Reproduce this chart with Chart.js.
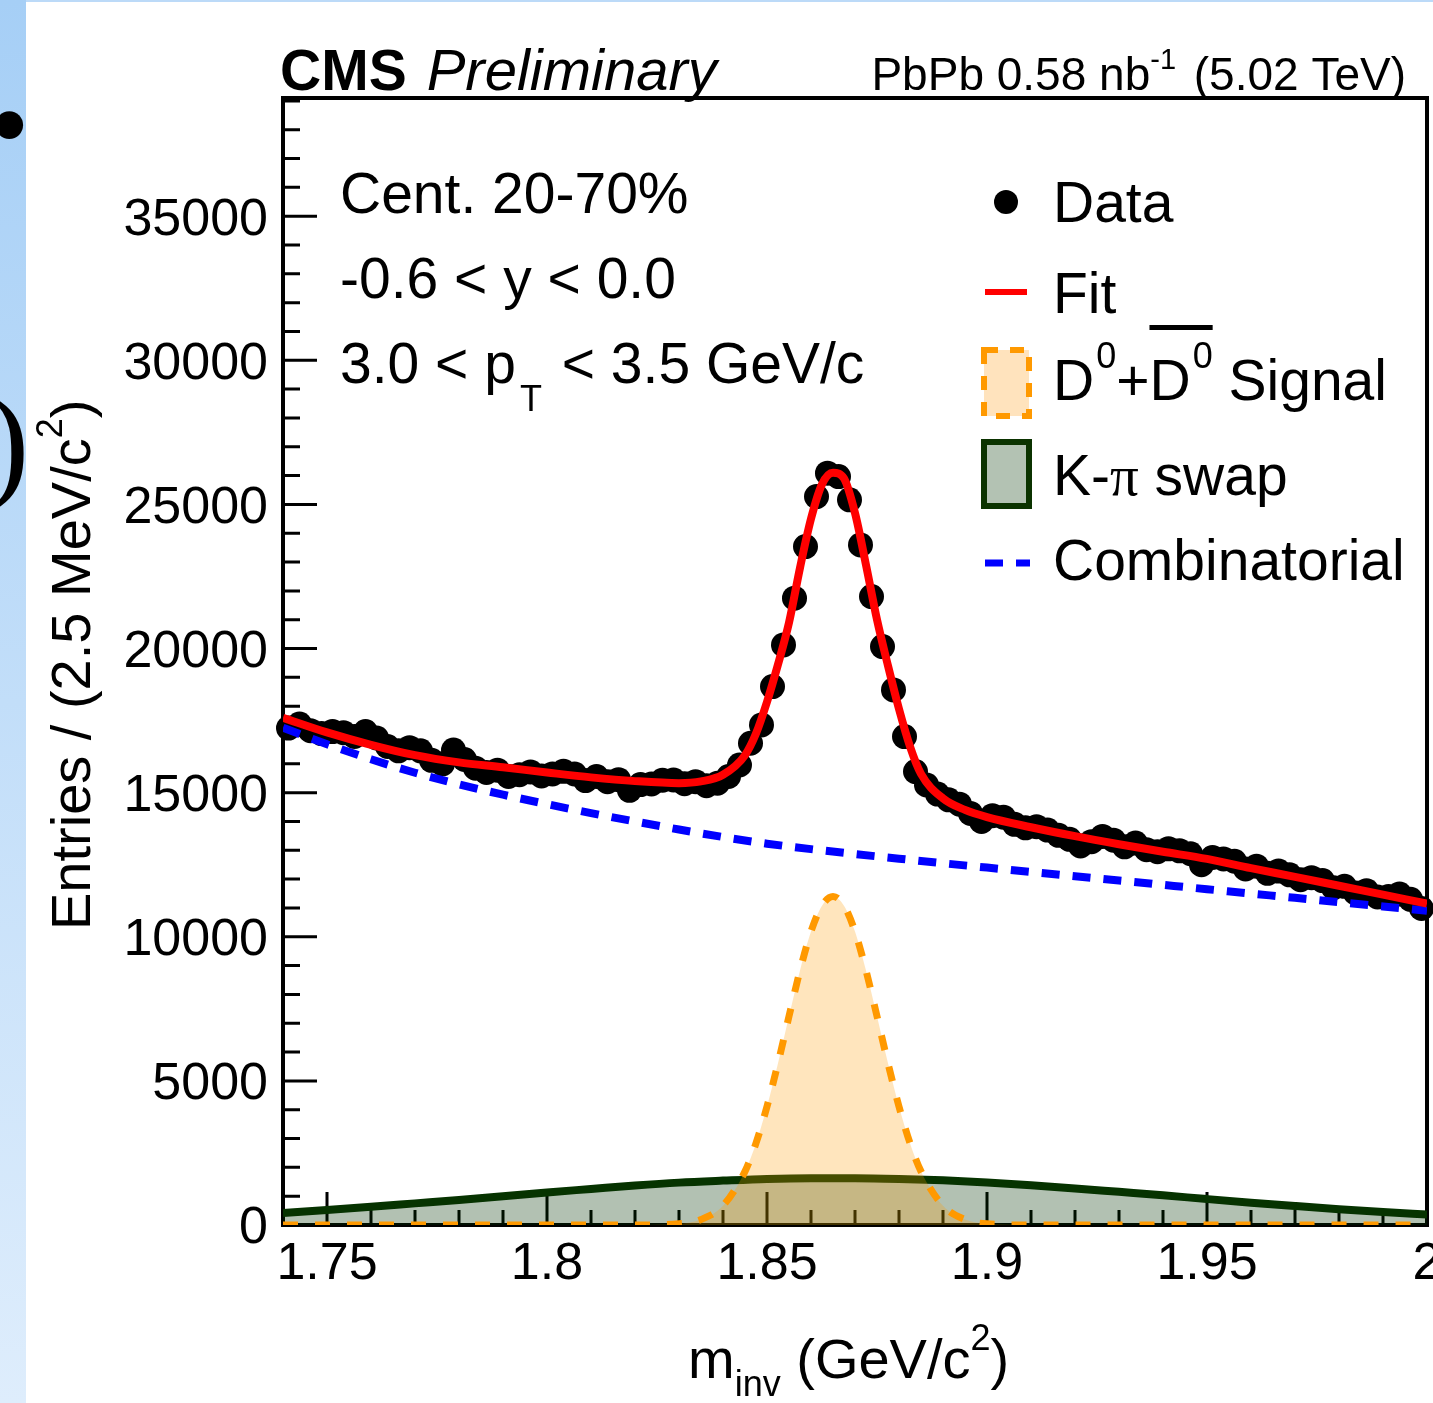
<!DOCTYPE html>
<html>
<head>
<meta charset="utf-8">
<title>D0 invariant mass, PbPb</title>
<script src="https://cdn.jsdelivr.net/npm/chart.js@4.4.1/dist/chart.umd.min.js"></script>
<style>
  html, body { margin: 0; padding: 0; background: #fff; }
  body { width: 1433px; height: 1403px; position: relative; overflow: hidden; }
  #c { position: absolute; left: 0; top: 0; }
  #strip { position: absolute; left: 0; top: 0; width: 26px; height: 1403px; overflow: hidden;
           background: linear-gradient(to bottom, #a6cff6, #deedfc); }
  #topline { position: absolute; left: 26px; top: 0; width: 1407px; height: 2px; background: #bcdaf8; }
  .glyph { position: absolute; font-family: 'Liberation Serif', 'Times New Roman', serif; color: #000; line-height: 1; }
  #bul { left: -11px; top: 67px; font-size: 116px; }
  #par { left: -14px; top: 376px; font-size: 130px; }
</style>
</head>
<body>
<canvas id="c" width="1460" height="1403"></canvas>
<div id="strip"><span class="glyph" id="bul">•</span><span class="glyph" id="par">)</span></div>
<div id="topline"></div>
<script>
const SANS = "'Liberation Sans', Arial, Helvetica, sans-serif";
const SERIF = "'Liberation Serif', 'Times New Roman', serif";

// histogram bin centres (2.5 MeV bins) and entries
const massBins = [
  1.74125, 1.74375, 1.74625, 1.74875, 1.75125, 1.75375, 1.75625, 1.75875,
  1.76125, 1.76375, 1.76625, 1.76875, 1.77125, 1.77375, 1.77625, 1.77875,
  1.78125, 1.78375, 1.78625, 1.78875, 1.79125, 1.79375, 1.79625, 1.79875,
  1.80125, 1.80375, 1.80625, 1.80875, 1.81125, 1.81375, 1.81625, 1.81875,
  1.82125, 1.82375, 1.82625, 1.82875, 1.83125, 1.83375, 1.83625, 1.83875,
  1.84125, 1.84375, 1.84625, 1.84875, 1.85125, 1.85375, 1.85625, 1.85875,
  1.86125, 1.86375, 1.86625, 1.86875, 1.87125, 1.87375, 1.87625, 1.87875,
  1.88125, 1.88375, 1.88625, 1.88875, 1.89125, 1.89375, 1.89625, 1.89875,
  1.90125, 1.90375, 1.90625, 1.90875, 1.91125, 1.91375, 1.91625, 1.91875,
  1.92125, 1.92375, 1.92625, 1.92875, 1.93125, 1.93375, 1.93625, 1.93875,
  1.94125, 1.94375, 1.94625, 1.94875, 1.95125, 1.95375, 1.95625, 1.95875,
  1.96125, 1.96375, 1.96625, 1.96875, 1.97125, 1.97375, 1.97625, 1.97875,
  1.98125, 1.98375, 1.98625, 1.98875, 1.99125, 1.99375, 1.99625, 1.99875
];
const entries = [
  17240, 17380, 17150, 17050, 17120, 17080, 16950, 17120,
  16900, 16600, 16450, 16560, 16450, 16120, 16000, 16480,
  16150, 15850, 15700, 15780, 15560, 15620, 15720, 15580,
  15650, 15740, 15650, 15420, 15560, 15380, 15450, 15080,
  15280, 15300, 15430, 15440, 15310, 15380, 15240, 15325,
  15560, 15960, 16715, 17350, 18680, 20126, 21746, 23537,
  25272, 26084, 25967, 25158, 23596, 21802, 20067, 18565,
  16944, 15730, 15268, 14950, 14750, 14600, 14280, 14000,
  14200, 14150, 13900, 13780, 13820, 13700, 13520, 13380,
  13150, 13300, 13480, 13350, 13120, 13250, 13020, 12950,
  13050, 12980, 12880, 12500, 12750, 12700, 12620, 12350,
  12450, 12200, 12280, 12150, 11980, 12050, 11950, 11700,
  11750, 11520, 11600, 11380, 11400, 11480, 11300, 10980
];

// smooth components on a coarse grid
const curveMass = [1.74, 1.75, 1.76, 1.77, 1.78, 1.79, 1.80, 1.81, 1.82, 1.83, 1.84, 1.85, 1.86, 1.87,
                   1.88, 1.89, 1.90, 1.91, 1.92, 1.93, 1.94, 1.95, 1.96, 1.97, 1.98, 1.99, 2.00];
const combinatorial = [17250, 16680, 16160, 15690, 15290, 14930, 14600, 14290, 14000, 13720, 13460, 13230, 13040, 12870,
                       12710, 12550, 12400, 12250, 12100, 11950, 11800, 11650, 11500, 11350, 11200, 11050, 10900];
const kpiSwap = [420, 520, 630, 750, 870, 1000, 1130, 1250, 1370, 1470, 1540, 1600, 1625, 1625,
                 1600, 1550, 1475, 1380, 1270, 1150, 1030, 900, 775, 660, 550, 450, 365];

// fit and signal, finer near the peak
const peakMass = [1.74, 1.75, 1.76, 1.77, 1.78, 1.79, 1.80, 1.81, 1.82, 1.83, 1.835, 1.84, 1.845, 1.8475,
                  1.85, 1.8525, 1.855, 1.8575, 1.86, 1.8625, 1.865, 1.8675, 1.87, 1.8725, 1.875, 1.8775,
                  1.88, 1.8825, 1.885, 1.89, 1.895, 1.90, 1.91, 1.92, 1.93, 1.94, 1.95, 1.96, 1.97, 1.98, 1.99, 2.00];
const fitTotal = [17600, 17090, 16660, 16300, 16050, 15880, 15700, 15530, 15400, 15330, 15390, 15620, 16300, 17050,
                  18150, 19450, 20900, 22800, 24500, 25700, 26100, 25900, 24700, 22900, 21000, 19400,
                  17900, 16600, 15650, 14800, 14400, 14150, 13800, 13490, 13210, 12950, 12700, 12380, 12080, 11770, 11460, 11150];
const signal = [0, 0, 0, 0, 0, 0, 0, 0, 0, 40, 190, 670, 1860, 2840,
                4110, 5610, 7240, 8830, 10180, 11080, 11400, 11080, 10180, 8830, 7240, 5610,
                4110, 2840, 1860, 670, 190, 40, 0, 0, 0, 0, 0, 0, 0, 0, 0, 0];

const xTickValues = [1.75, 1.8, 1.85, 1.9, 1.95, 2.0];
const xTickLabels = ['1.75', '1.8', '1.85', '1.9', '1.95', '2'];
const yTickValues = [0, 5000, 10000, 15000, 20000, 25000, 30000, 35000];
const yTickLabels = ['0', '5000', '10000', '15000', '20000', '25000', '30000', '35000'];

const pairs = (xs, ys) => xs.map((x, i) => ({ x: x, y: ys[i] }));

// draws a row of text pieces (for sub/superscripts), returns end x
function runs(ctx, x, y, parts) {
  for (const p of parts) {
    ctx.font = p.f;
    ctx.fillText(p.t, x, y + (p.dy || 0));
    x += ctx.measureText(p.t).width + (p.gap || 0);
  }
  return x;
}

const decor = {
  id: 'decor',
  beforeDatasetsDraw(chart) {
    const ctx = chart.ctx, a = chart.chartArea;
    const xs = chart.scales.x, ys = chart.scales.y;
    ctx.save();
    ctx.strokeStyle = '#000';
    ctx.lineWidth = 4;
    ctx.strokeRect(a.left, a.top, a.right - a.left, a.bottom - a.top);
    ctx.lineWidth = 3;
    ctx.beginPath();
    // y ticks, inward
    for (let k = 0; k <= 39; k++) {
      const py = ys.getPixelForValue(k * 1000);
      const len = k % 5 === 0 ? 34 : 17;
      ctx.moveTo(a.left, py);
      ctx.lineTo(a.left + len, py);
    }
    // x ticks, inward
    for (let k = 174; k <= 200; k++) {
      const px = xs.getPixelForValue(k / 100);
      const len = k % 5 === 0 ? 33 : 15;
      ctx.moveTo(px, a.bottom);
      ctx.lineTo(px, a.bottom - len);
    }
    ctx.stroke();
    ctx.restore();
  },
  afterDraw(chart) {
    const ctx = chart.ctx;
    ctx.save();
    ctx.fillStyle = '#000';
    ctx.textAlign = 'left';
    ctx.textBaseline = 'alphabetic';

    // header
    runs(ctx, 280, 90, [
      { t: 'CMS', f: `bold 57px ${SANS}`, gap: 20 },
      { t: 'Preliminary', f: `italic 58px ${SANS}` }
    ]);
    const lumi = [
      { t: 'PbPb 0.58 nb', f: `46px ${SANS}` },
      { t: '-1', f: `29px ${SANS}`, dy: -21, gap: 5 },
      { t: ' (5.02 TeV)', f: `46px ${SANS}` }
    ];
    let w = 0;
    for (const p of lumi) { ctx.font = p.f; w += ctx.measureText(p.t).width + (p.gap || 0); }
    runs(ctx, 1406 - w, 90, lumi);

    // selection text
    ctx.font = `57px ${SANS}`;
    ctx.fillText('Cent. 20-70%', 340, 213);
    ctx.fillText('-0.6 < y < 0.0', 340, 298);
    runs(ctx, 340, 383, [
      { t: '3.0 < p', f: `57px ${SANS}`, gap: 4 },
      { t: 'T', f: `36px ${SANS}`, dy: 28, gap: 4 },
      { t: ' < 3.5 GeV/c', f: `57px ${SANS}` }
    ]);

    // legend
    const lx = 1053;
    ctx.beginPath();
    ctx.arc(1006, 202, 12, 0, Math.PI * 2);
    ctx.fill();
    ctx.font = `57px ${SANS}`;
    ctx.fillText('Data', lx, 222);

    ctx.strokeStyle = '#ff0000';
    ctx.lineWidth = 6;
    ctx.beginPath(); ctx.moveTo(985, 292); ctx.lineTo(1027, 292); ctx.stroke();
    ctx.fillText('Fit', lx, 313);

    ctx.fillStyle = '#ffe3bd';
    ctx.fillRect(984, 350, 45, 66);
    ctx.strokeStyle = '#ff9900';
    ctx.lineWidth = 6;
    ctx.setLineDash([14, 12]);
    ctx.strokeRect(984, 350, 45, 66);
    ctx.setLineDash([]);
    ctx.fillStyle = '#000';
    let xx = runs(ctx, lx, 400, [
      { t: 'D', f: `57px ${SANS}`, gap: 2 },
      { t: '0', f: `36px ${SANS}`, dy: -32 },
      { t: '+', f: `57px ${SANS}` }
    ]);
    const barStart = xx;
    xx = runs(ctx, xx, 400, [
      { t: 'D', f: `57px ${SANS}`, gap: 2 },
      { t: '0', f: `36px ${SANS}`, dy: -32 }
    ]);
    ctx.fillRect(barStart, 325, xx - barStart, 5);
    runs(ctx, xx, 400, [{ t: ' Signal', f: `57px ${SANS}` }]);

    ctx.fillStyle = '#b3c2b3';
    ctx.fillRect(984, 442, 45, 64);
    ctx.strokeStyle = '#0b3300';
    ctx.lineWidth = 6;
    ctx.strokeRect(984, 442, 45, 64);
    ctx.fillStyle = '#000';
    runs(ctx, lx, 495, [
      { t: 'K-', f: `57px ${SANS}` },
      { t: 'π', f: `57px ${SERIF}` },
      { t: ' swap', f: `57px ${SANS}` }
    ]);

    ctx.strokeStyle = '#0000ff';
    ctx.lineWidth = 7;
    ctx.setLineDash([18, 13]);
    ctx.beginPath(); ctx.moveTo(985, 563); ctx.lineTo(1030, 563); ctx.stroke();
    ctx.setLineDash([]);
    ctx.font = `57px ${SANS}`;
    ctx.fillText('Combinatorial', lx, 580);

    // axis titles
    ctx.save();
    ctx.translate(90, 930);
    ctx.rotate(-Math.PI / 2);
    runs(ctx, 0, 0, [
      { t: 'Entries / (2.5 MeV/c', f: `56px ${SANS}` },
      { t: '2', f: `36px ${SANS}`, dy: -28 },
      { t: ')', f: `56px ${SANS}` }
    ]);
    ctx.restore();
    runs(ctx, 688, 1378, [
      { t: 'm', f: `56px ${SANS}` },
      { t: 'inv', f: `36px ${SANS}`, dy: 18 },
      { t: ' (GeV/c', f: `56px ${SANS}` },
      { t: '2', f: `36px ${SANS}`, dy: -28 },
      { t: ')', f: `56px ${SANS}` }
    ]);
    ctx.restore();
  }
};

new Chart(document.getElementById('c'), {
  type: 'scatter',
  data: {
    datasets: [
      { label: 'Fit', data: pairs(peakMass, fitTotal), showLine: true, borderColor: '#ff0000', borderWidth: 8,
        pointRadius: 0, cubicInterpolationMode: 'monotone', tension: 0.4, fill: false },
      { label: 'Combinatorial', data: pairs(curveMass, combinatorial), showLine: true, borderColor: '#0000ff',
        borderWidth: 8, borderDash: [18, 13], pointRadius: 0, cubicInterpolationMode: 'monotone', tension: 0.4, fill: false },
      { label: 'Data', data: pairs(massBins, entries), showLine: false, pointRadius: 12.5,
        pointBackgroundColor: '#000', pointBorderColor: '#000', pointBorderWidth: 0, clip: false },
      { label: 'D0 Signal', data: pairs(peakMass, signal), showLine: true, borderColor: '#ff9900', borderWidth: 7,
        borderDash: [15, 17], backgroundColor: 'rgba(255,153,0,0.26)', fill: 'origin', pointRadius: 0,
        cubicInterpolationMode: 'monotone', tension: 0.4 },
      { label: 'K-pi swap', data: pairs(curveMass, kpiSwap), showLine: true, borderColor: '#063300', borderWidth: 8,
        backgroundColor: 'rgba(0,51,0,0.3)', fill: 'origin', pointRadius: 0,
        cubicInterpolationMode: 'monotone', tension: 0.4 }
    ]
  },
  options: {
    responsive: false,
    animation: false,
    devicePixelRatio: 1,
    events: [],
    layout: { padding: { top: 98, right: 33, left: 0, bottom: 0 } },
    plugins: { legend: { display: false }, tooltip: { enabled: false }, title: { display: false } },
    scales: {
      x: {
        type: 'linear', min: 1.74, max: 2.0,
        grid: { display: false, drawTicks: false }, border: { display: false },
        afterBuildTicks: s => { s.ticks = xTickValues.map(v => ({ value: v })); },
        ticks: { padding: 8, color: '#000', font: { family: SANS, size: 52 }, maxRotation: 0, autoSkip: false,
                 callback: (v, i) => xTickLabels[i] },
        afterFit: s => { s.height = 178; s.paddingLeft = 0; s.paddingRight = 0; }
      },
      y: {
        type: 'linear', min: 0, max: 39100,
        grid: { display: false, drawTicks: false }, border: { display: false },
        afterBuildTicks: s => { s.ticks = yTickValues.map(v => ({ value: v })); },
        ticks: { padding: 15, labelOffset: 4, color: '#000', font: { family: SANS, size: 52 }, autoSkip: false,
                 callback: (v, i) => yTickLabels[i] },
        afterFit: s => { s.width = 283; s.paddingTop = 0; s.paddingBottom = 0; }
      }
    }
  },
  plugins: [decor]
});
</script>
</body>
</html>
